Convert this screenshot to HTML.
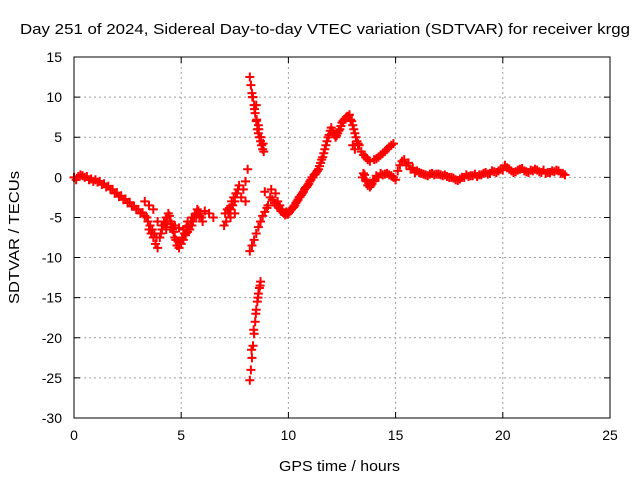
<!DOCTYPE html>
<html><head><meta charset="utf-8">
<style>
body{margin:0;background:#fff;}
svg{display:block;font-family:"Liberation Sans",sans-serif;}
</style></head>
<body>
<svg id="chart" width="640" height="480" xmlns="http://www.w3.org/2000/svg">
<rect width="640" height="480" fill="#fff"/>
<text x="20" y="34" font-size="15" textLength="610" lengthAdjust="spacingAndGlyphs">Day 251 of 2024, Sidereal Day-to-day VTEC variation (SDTVAR) for receiver krgg</text>
<text x="279" y="471" font-size="15" textLength="121" lengthAdjust="spacingAndGlyphs">GPS time / hours</text>
<text transform="translate(19,304) rotate(-90)" font-size="15" textLength="133" lengthAdjust="spacingAndGlyphs">SDTVAR / TECUs</text>
<g id="grid"></g>
<g id="marks"></g>
<rect x="74" y="57" width="536" height="361" fill="none" stroke="#000" stroke-width="1"/>
</svg>
<script>
const xTicks=[0,5,10,15,20,25];
const yTicks=[15,10,5,0,-5,-10,-15,-20,-25,-30];
const times=[0,0.2,0.4,0.6,0.8,1.0,1.2,1.4,1.6,1.8,2.0,2.2,2.4,2.6,2.8,3.0,3.2,3.4,3.5,3.6,3.7,3.8,3.9,4.0,4.1,4.2,4.3,4.4,4.5,4.6,4.7,4.8,4.9,5.0,5.1,5.2,5.3,5.4,5.5,5.6,5.7,5.8,5.9,6.0,
3.3,3.5,3.7,3.9,4.1,4.3,4.5,4.7,4.9,5.1,5.3,5.5,5.7,6.1,6.3,6.5,
7.0,7.1,7.2,7.3,7.4,7.5,7.6,7.7,7.3,7.5,7.8,7.9,8.0,8.1,8.0,
8.2,8.25,8.3,8.35,8.4,8.45,8.5,8.55,8.6,8.65,8.7,8.75,8.8,8.85,8.5,8.6,
8.2,8.25,8.3,8.35,8.4,8.45,8.5,8.55,8.6,8.65,8.7,
8.2,8.3,8.4,8.5,8.6,8.7,8.8,8.9,9.0,
8.9,9.2,9.4,9.5,9.6,9.7,9.8,9.9,10.0,10.1,10.2,10.3,10.4,10.5,10.6,10.7,10.8,10.9,11.0,11.1,11.2,11.3,11.4,11.5,11.6,11.7,11.8,11.9,12.0,12.1,12.2,12.3,12.4,12.5,12.6,12.7,12.8,12.9,13.0,13.1,13.2,13.3,
13.0,13.1,13.4,13.5,13.6,13.7,13.8,14.0,14.2,14.4,14.6,14.8,
13.5,13.6,13.7,13.8,13.9,14.0,14.2,14.4,14.6,14.8,15.0,15.2,15.4,15.6,15.8,16.0,16.2,16.4,16.6,16.8,17.0,17.2,17.4,17.6,17.8,18.0,18.2,18.4,18.6,18.8,19.0,19.2,19.4,19.6,19.8,20.0,20.2,20.4,20.6,20.8,21.0,21.2,21.4,21.6,21.8,22.0,22.2,22.4,22.6,22.8,
0.1,0.3,0.5,0.7,0.9,1.1,1.3,1.5,1.7,1.9,2.1,2.3,2.5,2.7,2.9,3.1,3.3,3.45,3.55,3.65,3.75,3.85,4.05,4.15,4.25,4.35,4.45,4.55,4.65,4.75,4.85,4.95,5.05,5.15,5.25,5.35,5.45,5.55,5.65,5.75,5.85,5.95,
7.05,7.15,7.25,7.35,7.45,7.55,7.65,
8.32,8.42,8.52,8.62,8.72,8.82,8.28,8.38,8.48,8.58,8.68,
9.05,9.15,9.25,9.35,9.45,9.55,9.65,9.75,9.85,9.95,10.05,10.15,10.25,10.35,10.45,10.55,10.65,10.75,10.85,10.95,11.05,11.15,11.25,11.35,11.45,11.55,11.65,11.75,11.85,11.95,12.05,12.15,12.25,12.35,12.45,12.55,12.65,12.75,12.85,12.95,13.05,13.15,13.25,
13.45,13.55,13.65,13.75,13.85,13.95,14.1,14.3,14.5,14.7,14.9,14.1,14.3,14.5,14.7,14.9,
15.1,15.3,15.5,15.7,15.9,16.1,16.3,16.5,16.7,16.9,17.1,17.3,17.5,17.7,17.9,18.1,18.3,18.5,18.7,18.9,19.1,19.3,19.5,19.7,19.9,20.1,20.3,20.5,20.7,20.9,21.1,21.3,21.5,21.7,21.9,22.1,22.3,22.5,22.7,22.9];
const values=[0,0.1,0.2,0.1,-0.2,-0.3,-0.5,-0.8,-1.1,-1.5,-1.9,-2.3,-2.7,-3.1,-3.6,-4.0,-4.4,-5.0,-6.5,-7.0,-7.5,-8.3,-8.8,-7.5,-6.5,-5.5,-5.0,-4.5,-5.5,-6.5,-7.5,-8.5,-8.8,-8.3,-7.8,-7.2,-6.8,-6.5,-6.0,-5.0,-4.5,-4.2,-4.5,-5.5,
-3,-3.5,-4,-5.5,-6,-6.5,-6.2,-6,-6.3,-6.5,-5.5,-5,-4.8,-4.2,-4.5,-5,
-6,-5.5,-4.5,-4,-3.5,-3,-2,-1,-5,-4.5,-2.5,-1.5,-0.5,1.0,-3,
12.5,11.5,10.5,10,9,8,7,6,5.5,5,4.5,4,3.5,3.2,9,6.5,
-25.3,-24,-22.5,-21,-19.5,-18,-16.5,-15.5,-14.5,-13.8,-13,
-9.2,-8.5,-7.8,-7,-6.2,-5.5,-4.8,-4.3,-3.8,
-1.8,-1.5,-2,-3,-3.5,-4,-4.5,-4.3,-4.5,-4,-3.8,-3.5,-3,-2.5,-2.2,-1.8,-1.3,-1,-0.5,0,0.3,0.6,1,1.8,2.5,3.5,4.5,5.3,6.2,5.5,5.0,5.5,6.0,6.8,7.2,7.5,7.6,7.2,6.5,5.5,4.5,4,
4,3.5,3.2,2.8,2.5,2.2,2,2.2,2.5,3,3.5,4,
0.5,-0.3,-1,-1.2,-0.8,-0.3,0,0.3,0.5,0.2,-0.3,1.5,2.2,1.8,1.2,0.8,0.5,0.3,0.4,0.3,0.4,0.2,0.1,0,-0.3,-0.2,0,0.1,0.2,0.1,0.3,0.6,0.5,0.7,0.8,0.9,1.2,0.8,0.7,1.0,0.8,0.6,0.8,0.9,0.6,0.5,0.6,0.7,0.8,0.5,
-0.3,0.3,0,-0.3,-0.5,-0.6,-0.9,-1.2,-1.5,-2,-2.4,-2.8,-3.2,-3.6,-4,-4.5,-4.8,-5.5,-6,-6.5,-7,-7.5,-7,-6,-5.8,-5.5,-4.8,-5.8,-6.8,-7.8,-8,-8.2,-7.5,-7,-6.2,-6,-5.5,-5.5,-4.6,-4,-4.8,-5,
-4.5,-4,-3.8,-3,-2.5,-2,-1.5,
10,8.5,7.2,6,5,4.2,-21.5,-19,-17,-15,-13.5,
-3.5,-2.5,-2.8,-3.2,-3.5,-3.8,-4.2,-4.4,-4.7,-4.6,-4.3,-4,-3.7,-3.2,-2.8,-2.4,-2,-1.5,-1.2,-0.8,-0.3,0,0.4,0.8,1.4,2.2,3,4,5,5.8,5.8,5.3,5.2,5.8,6.4,7,7.3,7.6,7.8,7,6,5,4.2,
0,0.3,-0.5,-0.7,-1,-0.5,2.3,2.8,3.2,3.8,4.2,0.2,0.5,0.4,0.3,0,
0.8,2,1.5,1,0.6,0.6,0.4,0.2,0.5,0.4,0.3,0.3,0,-0.1,-0.4,0,0.3,0.2,0.4,0.3,0.5,0.4,0.8,0.6,1.0,1.5,1.0,0.6,0.9,1.1,0.7,0.9,1.0,0.7,0.9,0.6,0.8,0.9,0.5,0.3];

const X0=74,X1=610,Y0=418,Y1=57,XMIN=0,XMAX=25,YMIN=-30,YMAX=15;
function xs(t){return X0+(t-XMIN)/(XMAX-XMIN)*(X1-X0);}
function ys(v){return Y0-(v-YMIN)/(YMAX-YMIN)*(Y0-Y1);}
const NS="http://www.w3.org/2000/svg";
const grid=document.getElementById('grid');
const marks=document.getElementById('marks');
function mk(tag,attrs,parent){const e=document.createElementNS(NS,tag);for(const k in attrs)e.setAttribute(k,attrs[k]);parent.appendChild(e);return e;}
xTicks.forEach(t=>{
  const x=xs(t);
  if(t>XMIN&&t<XMAX){
    const g=mk('line',{x1:x,x2:x,y1:Y1,y2:Y0,stroke:'#a0a0a0','stroke-dasharray':'2,3'},grid);
    
    
  }
  const tk=mk('path',{d:`M${x},${Y0}v-6M${x},${Y1}v6`,stroke:'#000'},grid);
  
  
  const lb=mk('text',{x:x,y:Y0+22,'font-size':14,'text-anchor':'middle'},grid);
  lb.textContent=t;
  
  
});
yTicks.forEach(v=>{
  const y=ys(v);
  if(v>YMIN&&v<YMAX){
    const g=mk('line',{x1:X0,x2:X1,y1:y,y2:y,stroke:'#a0a0a0','stroke-dasharray':'2,3'},grid);
    
    
  }
  const tk=mk('path',{d:`M${X0},${y}h6M${X1},${y}h-6`,stroke:'#000'},grid);
  
  
  const lb=mk('text',{x:X0-12,y:y+5,'font-size':14,'text-anchor':'end'},grid);
  lb.textContent=v;
  
  
});
for(let i=0;i<times.length;i++){
  const x=xs(times[i]),y=ys(values[i]);
  const p=mk('path',{d:`M${x-4.5},${y}h9M${x},${y-4.5}v9`,stroke:'#ff0000','stroke-width':2},marks);
  
  
}
</script>
</body></html>
